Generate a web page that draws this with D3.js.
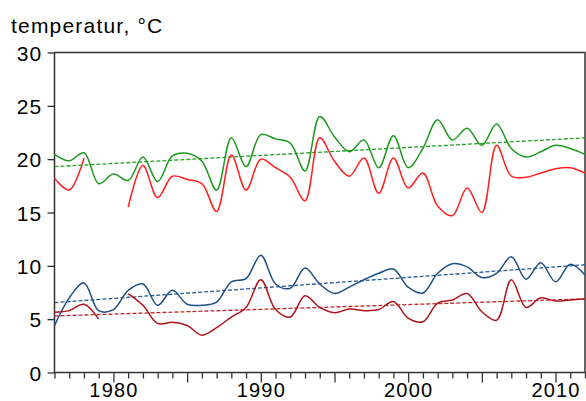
<!DOCTYPE html>
<html>
<head>
<meta charset="utf-8">
<script src="https://cdn.jsdelivr.net/npm/d3@7"></script>
<style>
  body { margin: 0; background: #fff; }
  svg text { font-family: "Liberation Sans", Arial, sans-serif; font-size: 21px; letter-spacing: 1.2px; fill: #000; }
  .x-labels text { font-size: 20px; }
  .line { fill: none; stroke-width: 1.5; }
  .trend { fill: none; stroke-width: 1.3; stroke-dasharray: 4 2; }
</style>
</head>
<body>
<script>
// yearly values, null = no data
const years = d3.range(1976, 2013);
const green = [20.45, 19.85, 20.6, 17.7, 18.6, 18.0, 20.2, 17.9, 20.3, 20.55, 19.8, 17.1, 22.0, 19.3, 22.3, 21.9, 21.5, 18.9, 24.0, 22.1,
               20.7, 21.8, 19.2, 22.2, 19.2, 21.0, 23.7, 21.8, 22.9, 21.3, 23.3, 21.0, 20.2, 20.7, 21.3, 21.0, 20.45];
const red = [18.2, 17.1, 20.1, null, null, 15.5, 19.4, 16.4, 18.4, 18.1, 17.7, 15.1, 20.4, 17.1, 20.0, 19.2, 18.3, 16.1, 22.0, 19.8,
             18.4, 20.1, 16.8, 20.1, 17.3, 18.7, 15.6, 14.7, 17.3, 15.0, 21.3, 18.4, 18.3, 18.7, 19.1, 19.2, 18.7];
const blue = [4.4, 7.0, 8.4, 5.8, 5.9, 7.7, 8.3, 6.3, 7.7, 6.4, 6.3, 6.6, 8.5, 8.8, 11.0, 8.3, 7.9, 9.8, 8.3, 7.4,
              8.0, 8.7, 9.3, 9.7, 8.0, 7.45, 9.3, 10.2, 9.9, 8.9, 9.3, 10.85, 8.75, 10.3, 8.5, 10.15, 9.15];
const darkred = [5.65, 5.8, 6.4, 5.0, null, 7.4, 6.3, 4.6, 4.7, 4.4, 3.5, 4.2, 5.2, 6.1, 8.7, 5.9, 5.2, 7.2, 6.1, 5.6,
                 5.95, 5.8, 5.9, 6.65, 5.1, 4.75, 6.5, 6.8, 7.4, 5.7, 4.9, 8.7, 6.1, 7.0, 6.7, 6.8, 6.9];
// dashed trend lines: value at first and last year
const trendGreen = [19.3, 22.0];
const trendBlue = [6.55, 10.1];
const trendDarkred = [5.3, 6.9];
const yTicks = [0, 5, 10, 15, 20, 25, 30];
const xLabels = [1980, 1990, 2000, 2010];
const yTitle = "temperatur, °C";

const W = 586, H = 401;
const margin = { top: 52.5, right: 1, bottom: 28.5, left: 54.5 };
const width = W - margin.left - margin.right;
const height = H - margin.top - margin.bottom;

const svg = d3.select("body").append("svg")
    .attr("width", W)
    .attr("height", H);

const g = svg.append("g")
    .attr("transform", "translate(" + margin.left + "," + margin.top + ")");

const x = d3.scaleLinear().domain([1976, 2012]).range([0, width]);
const y = d3.scaleLinear().domain([0, 30]).range([height, 0]);

// y axis
const yAxis = g.append("g")
    .call(d3.axisLeft(y).tickValues(yTicks).tickSize(7).tickPadding(5));
yAxis.select(".domain").remove();
yAxis.selectAll(".tick text").attr("dy", "0.36em");

// x axis: yearly minor ticks, longer ticks every 5 years
const xMinor = g.append("g")
    .attr("transform", "translate(0," + height + ")")
    .call(d3.axisBottom(x).tickValues(years.filter(d => d % 5 != 0)).tickSize(6).tickFormat(""));
xMinor.select(".domain").remove();

const xMajor = g.append("g")
    .attr("class", "x-labels")
    .attr("transform", "translate(0," + height + ")")
    .call(d3.axisBottom(x).tickValues(years.filter(d => d % 5 == 0)).tickSize(10)
        .tickFormat(d => xLabels.includes(d) ? d : ""));
xMajor.select(".domain").remove();
// baseline kept just inside the bottom edge
xMajor.selectAll(".tick text").attr("y", 24).attr("dy", 0);
g.selectAll(".tick line").attr("stroke", "#333").attr("stroke-width", 1.3);

// frame
g.append("rect")
    .attr("width", width)
    .attr("height", height)
    .attr("fill", "none")
    .attr("stroke", "#333")
    .attr("stroke-width", 1.5);

svg.append("text")
    .attr("x", 11)
    .attr("y", 33)
    .text(yTitle);

const line = d3.line()
    .defined(d => d[1] != null)
    .x(d => x(d[0]))
    .y(d => y(d[1]))
    .curve(d3.curveCatmullRom.alpha(0.5));

const drawTrend = (ends, color) => {
    g.append("path")
        .datum([[1976, ends[0]], [2012, ends[1]]])
        .attr("class", "trend")
        .attr("stroke", color)
        .attr("d", d3.line().x(d => x(d[0])).y(d => y(d[1])));
}

const drawSeries = (values, color) => {
    g.append("path")
        .datum(years.map((yr, i) => [yr, values[i]]))
        .attr("class", "line")
        .attr("stroke", color)
        .attr("d", line);
}

drawTrend(trendGreen, "#2a9e2a");
drawTrend(trendBlue, "#2d5a90");
drawTrend(trendDarkred, "#b8282c");

drawSeries(green, "#1c9a1c");
drawSeries(red, "#ff1f1f");
drawSeries(blue, "#1d4f87");
drawSeries(darkred, "#b0141c");
</script>
</body>
</html>
